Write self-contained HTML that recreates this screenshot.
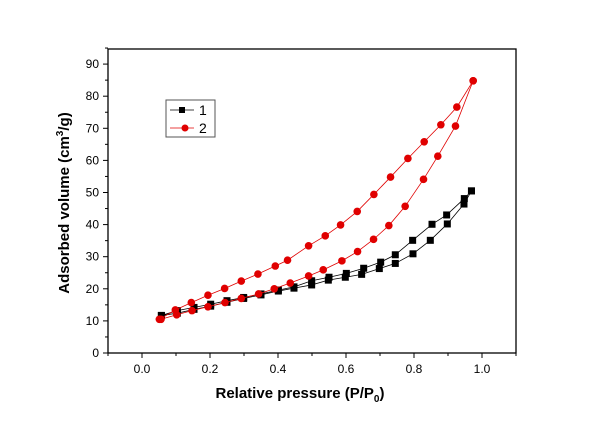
<!DOCTYPE html>
<html><head><meta charset="utf-8"><style>
body{margin:0;background:#fff;}
svg{display:block;font-family:"Liberation Sans",Arial,sans-serif;}
</style></head><body>
<svg id="chart" width="600" height="424"></svg>
<script>
const xTicks=[0.0,0.2,0.4,0.6,0.8,1.0];
const xTickLabels=["0.0","0.2","0.4","0.6","0.8","1.0"];
const yTicks=[0,10,20,30,40,50,60,70,80,90];
const s1AdsX=[0.057,0.104,0.153,0.202,0.250,0.299,0.350,0.401,0.447,0.499,0.548,0.598,0.646,0.698,0.745,0.797,0.848,0.898,0.947,0.969];
const s1AdsY=[11.7,12.4,13.6,14.6,15.8,17.0,18.1,19.3,20.2,21.2,22.7,23.6,24.5,26.3,27.9,30.9,35.1,40.2,46.4,50.5];
const s1DesX=[0.057,0.104,0.153,0.202,0.250,0.299,0.350,0.401,0.447,0.499,0.550,0.601,0.652,0.702,0.745,0.796,0.853,0.896,0.948,0.969];
const s1DesY=[11.7,13.2,14.2,15.2,16.3,17.3,18.4,19.6,20.6,22.5,23.6,24.8,26.4,28.3,30.6,35.1,40.1,43.0,48.1,50.5];
const s2AdsX=[0.056,0.102,0.147,0.194,0.244,0.292,0.343,0.389,0.436,0.490,0.533,0.588,0.634,0.681,0.726,0.774,0.828,0.870,0.922,0.974];
const s2AdsY=[10.5,11.9,13.2,14.4,15.7,17.0,18.4,20.0,21.8,24.0,25.9,28.7,31.6,35.4,39.7,45.7,54.1,61.3,70.7,84.8];
const s2DesX=[0.051,0.098,0.145,0.194,0.243,0.292,0.341,0.392,0.428,0.490,0.539,0.584,0.633,0.682,0.731,0.782,0.830,0.879,0.926,0.974];
const s2DesY=[10.5,13.4,15.7,18.0,20.1,22.4,24.6,27.1,28.9,33.4,36.5,39.9,44.1,49.4,54.8,60.6,65.8,71.1,76.6,84.8];

const NS="http://www.w3.org/2000/svg";
const svg=document.getElementById('chart');
const L=108,R=516,T=49,B=353;
const xS=v=>L+(v+0.1)/1.2*(R-L);
const yS=v=>B-v/94.7*(B-T);
function el(tag,attrs,parent){const e=document.createElementNS(NS,tag);for(const k in attrs)e.setAttribute(k,attrs[k]);(parent||svg).appendChild(e);return e;}

const frame=el('rect',{x:L,y:T,width:R-L,height:B-T,fill:'none',stroke:'#000','stroke-width':1.3});



xTicks.forEach((v,i)=>{
  el('line',{x1:xS(v),x2:xS(v),y1:B,y2:B+5,stroke:'#000'});
  const t=el('text',{x:xS(v),y:B+20,'text-anchor':'middle','font-size':12});
  t.textContent=xTickLabels[i];
  
  
  if(i<xTicks.length-1) el('line',{x1:xS(v+0.1),x2:xS(v+0.1),y1:B,y2:B+3,stroke:'#000'});
});
el('line',{x1:xS(-0.1),x2:xS(-0.1),y1:B,y2:B+3,stroke:'#000'});
el('line',{x1:xS(1.1),x2:xS(1.1),y1:B,y2:B+3,stroke:'#000'});
yTicks.forEach(v=>{
  el('line',{x1:L-5,x2:L,y1:yS(v),y2:yS(v),stroke:'#000'});
  el('line',{x1:L-3,x2:L,y1:yS(v+5),y2:yS(v+5),stroke:'#000'});
  const t=el('text',{x:L-9,y:yS(v)+4,'text-anchor':'end','font-size':12});
  t.textContent=v;
  
  
});

function series(xs,ys,color,shape,name){
  const g=el('g',{});
  
  
  el('polyline',{points:xs.map((x,i)=>xS(x)+','+yS(ys[i])).join(' '),fill:'none',stroke:color,'stroke-width':0.8},g);
  xs.forEach((x,i)=>{
    let m;
    if(shape==='sq') m=el('rect',{x:xS(x)-3.5,y:yS(ys[i])-3.5,width:7,height:7,fill:color},g);
    else m=el('circle',{cx:xS(x),cy:yS(ys[i]),r:3.8,fill:color},g);
    
    
  });
}
series(s1AdsX,s1AdsY,'#000','sq','series-1-adsorption');
series(s1DesX,s1DesY,'#000','sq','series-1-desorption');
series(s2AdsX,s2AdsY,'#e00000','ci','series-2-adsorption');
series(s2DesX,s2DesY,'#e00000','ci','series-2-desorption');

const lg=el('g',{});


el('rect',{x:166,y:100,width:49,height:37,fill:'#fff',stroke:'#555','stroke-width':1},lg);
el('line',{x1:170,x2:194,y1:110,y2:110,stroke:'#000','stroke-width':0.8},lg);
el('rect',{x:182-3,y:110-3,width:6,height:6,fill:'#000'},lg);
el('line',{x1:170,x2:194,y1:128,y2:128,stroke:'#e00000','stroke-width':0.8},lg);
el('circle',{cx:185,cy:128,r:3.5,fill:'#e00000'},lg);
const l1=el('text',{x:199,y:115,'font-size':14},lg);l1.textContent='1';


const l2=el('text',{x:199,y:133,'font-size':14},lg);l2.textContent='2';



const xt=el('text',{x:300,y:398,'text-anchor':'middle','font-size':15,'font-weight':'bold'});
xt.innerHTML='Relative pressure (P/P<tspan font-size="10" dy="4">0</tspan><tspan dy="-4">)</tspan>';


const yt=el('text',{x:0,y:0,'text-anchor':'middle','font-size':15,'font-weight':'bold',transform:'translate(69,203) rotate(-90)'});
yt.innerHTML='Adsorbed volume (cm<tspan font-size="10" dy="-6">3</tspan><tspan dy="6">/g)</tspan>';


</script>
</body></html>
